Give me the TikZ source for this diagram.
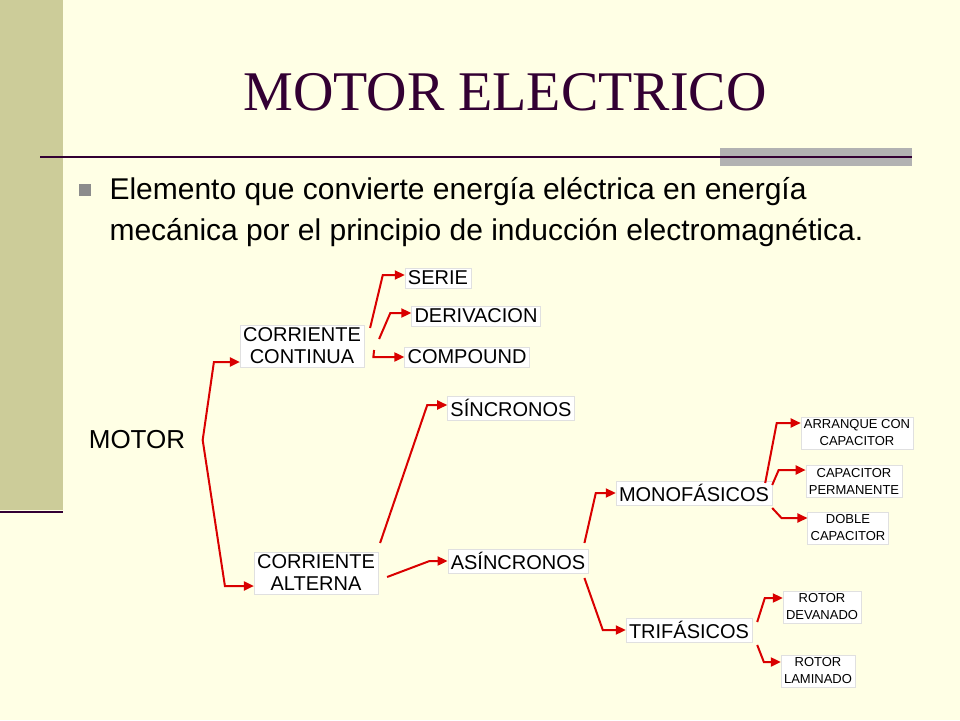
\documentclass[tikz,border=0pt]{standalone}
\usepackage{fontspec}
\setmainfont{Liberation Serif}
\setsansfont{Liberation Sans}
\usetikzlibrary{arrows.meta}
\definecolor{paper}{HTML}{FFFFE5}
\definecolor{khaki}{HTML}{CCCC99}
\definecolor{plum}{HTML}{330033}
\definecolor{barGray}{HTML}{B2B2B2}
\tikzset{
  box/.style={fill=white, draw=black!12, inner sep=3pt, align=center, font=\sffamily\fontsize{20}{22}\selectfont},
  smallbox/.style={box, font=\sffamily\fontsize{13}{17}\selectfont},
  arr/.style={red!85!black, line width=2pt, -{Triangle[length=10pt,width=9pt]}}
}
\begin{document}
\begin{tikzpicture}[x=1pt, y=-1pt]
  % page and frame
  \fill[paper] (0,0) rectangle (960,720);
  \useasboundingbox (0,0) rectangle (960,720);
  \fill[khaki] (0,0) rectangle (63,510);
  \draw[plum, line width=2.5pt] (0,512) -- (63,512);
  \fill[barGray] (720,148) rectangle (912,166);
  \draw[plum, line width=1.5pt] (40,157) -- (912,157);
  \node (title) at (505,92) [text=plum, font=\fontsize{56}{60}\selectfont] {MOTOR ELECTRICO};
  \fill[black!45] (79,184) rectangle (91,196);
  \node (texto) at (106,212) [anchor=west, align=left, font=\sffamily\fontsize{30}{41}\selectfont]
    {Elemento que convierte energía eléctrica en energía\\mecánica por el principio de inducción electromagnética.};
  % tree
  \node (motor) at (137,440) [font=\sffamily\fontsize{26}{28}\selectfont] {MOTOR};
  \node (cc) at (302,346) [box] {CORRIENTE\\CONTINUA};
  \node (ca) at (316,573) [box] {CORRIENTE\\ALTERNA};
  \node (serie) at (438,278) [box] {SERIE};
  \node (deriv) at (476,316) [box] {DERIVACION};
  \node (comp) at (467,357) [box] {COMPOUND};
  \node (sinc) at (511,408) [box] {SÍNCRONOS};
  \node (asinc) at (518,561) [box] {ASÍNCRONOS};
  \node (mono) at (694,493) [box] {MONOFÁSICOS};
  \node (tri) at (689,630) [box] {TRIFÁSICOS};
  \node (arranque) at (857,433) [smallbox] {ARRANQUE CON\\CAPACITOR};
  \node (perm) at (854,481) [smallbox] {CAPACITOR\\PERMANENTE};
  \node (doble) at (848,528) [smallbox] {DOBLE\\CAPACITOR};
  \node (devan) at (822,607) [smallbox] {ROTOR\\DEVANADO};
  \node (lamin) at (818,671) [smallbox] {ROTOR\\LAMINADO};
  % connectors
  \draw[arr] ([xshift=14pt]motor.east) -- ([xshift=-26pt,yshift=-16pt]cc.west) -- ([yshift=-16pt]cc.west);
  \draw[arr] ([xshift=14pt]motor.east) -- ([xshift=-29pt,yshift=-13pt]ca.west) -- ([yshift=-13pt]ca.west);
  \draw[arr] ([xshift=6pt,yshift=18pt]cc.east) -- ([xshift=-22pt,yshift=3pt]serie.west) -- ([yshift=3pt]serie.west);
  \draw[arr] ([xshift=15pt,yshift=7pt]cc.east) -- ([xshift=-21pt,yshift=3pt]deriv.west) -- ([yshift=3pt]deriv.west);
  \draw[arr] ([xshift=10pt,yshift=-4pt]cc.east) -- ([xshift=-31pt]comp.west) -- (comp.west);
  \draw[arr] ([xshift=2pt,yshift=30pt]ca.east) -- ([xshift=-20pt,yshift=3pt]sinc.west) -- ([yshift=3pt]sinc.west);
  \draw[arr] ([xshift=9pt,yshift=-4pt]ca.east) -- ([xshift=-18pt]asinc.west) -- (asinc.west);
  \draw[arr] ([xshift=-4pt,yshift=18pt]asinc.east) -- ([xshift=-20pt]mono.west) -- (mono.west);
  \draw[arr] ([xshift=-4pt,yshift=-17pt]asinc.east) -- ([xshift=-23pt]tri.west) -- (tri.west);
  \draw[arr] ([xshift=-7pt,yshift=10pt]mono.east) -- ([xshift=-24pt,yshift=10pt]arranque.west) -- ([yshift=10pt]arranque.west);
  \draw[arr] ([xshift=0pt,yshift=8pt]mono.east) -- ([xshift=-27pt,yshift=11pt]perm.west) -- ([yshift=11pt]perm.west);
  \draw[arr] ([xshift=0pt,yshift=-15pt]mono.east) -- ([xshift=-26pt,yshift=10pt]doble.west) -- ([yshift=10pt]doble.west);
  \draw[arr] ([xshift=5pt,yshift=8pt]tri.east) -- ([xshift=-18pt,yshift=9pt]devan.west) -- ([yshift=9pt]devan.west);
  \draw[arr] ([xshift=5pt,yshift=-15pt]tri.east) -- ([xshift=-17pt,yshift=9pt]lamin.west) -- ([yshift=9pt]lamin.west);
\end{tikzpicture}
\end{document}
